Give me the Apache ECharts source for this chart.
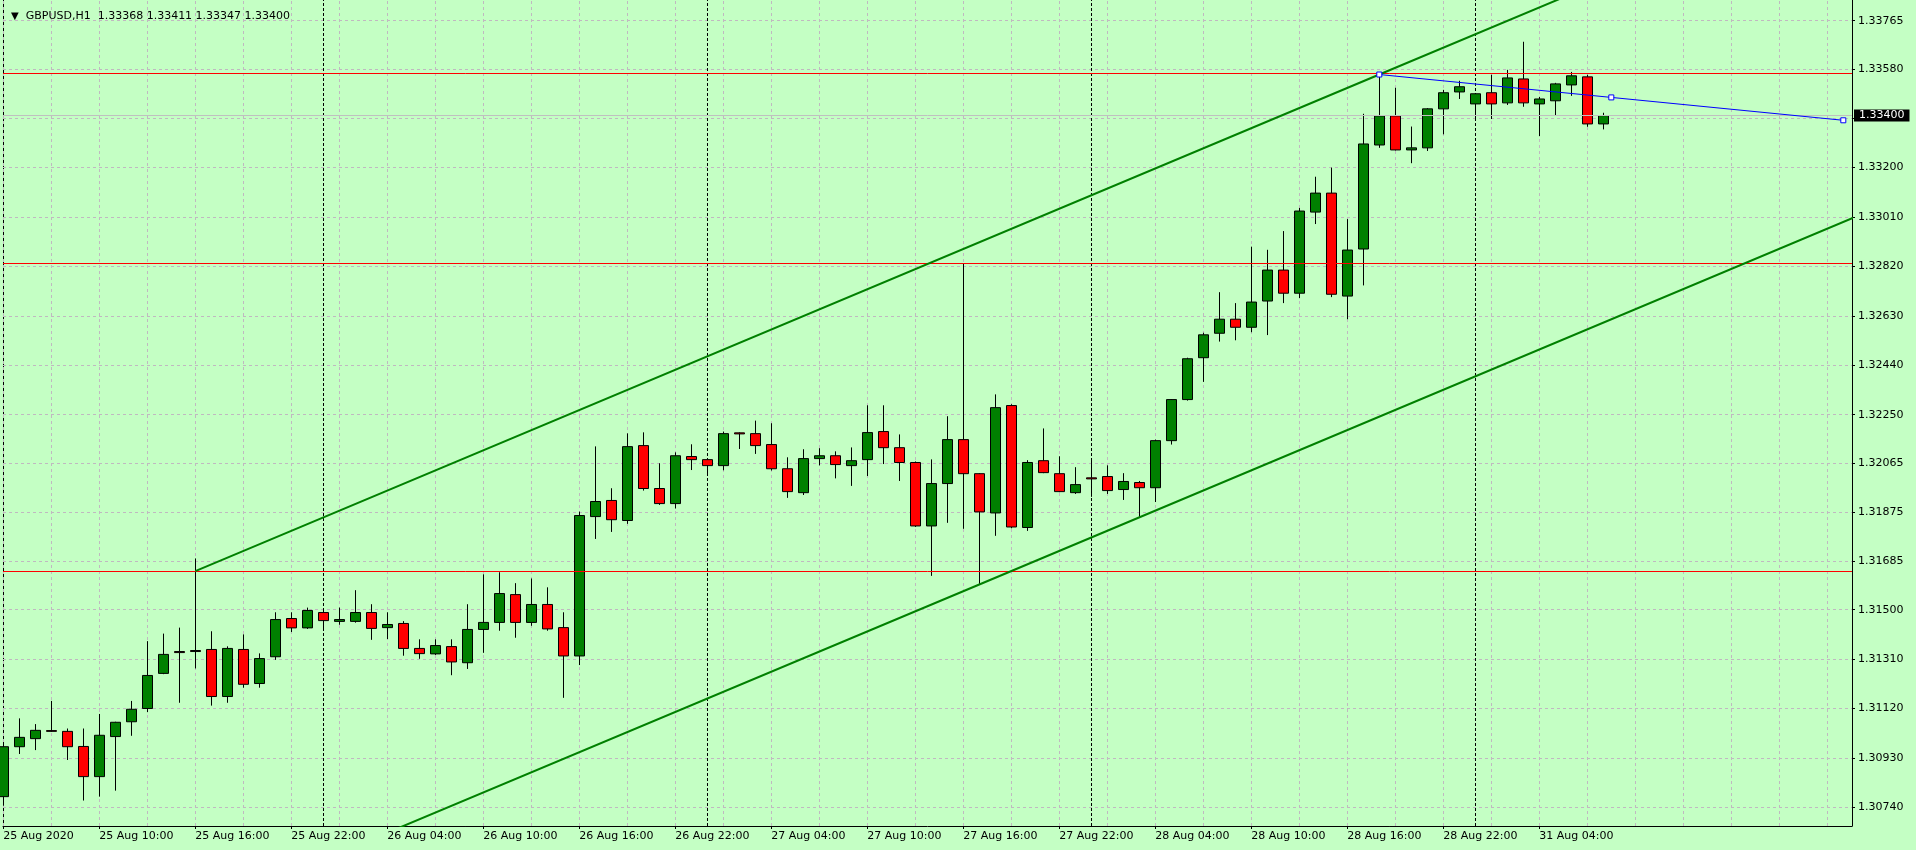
<!DOCTYPE html>
<html><head><meta charset="utf-8">
<script src="https://cdn.jsdelivr.net/npm/echarts@6/dist/echarts.min.js"></script>
<style>html,body{margin:0;padding:0;background:#c4ffc4;}#c{width:1916px;height:850px;}</style>
</head><body><div id="c"></div>
<script>
const symbolName = 'GBPUSD';
const timeframe = 'H1';
const opens = [1.30781,1.30973,1.31004,1.31035,1.31032,1.30974,1.30858,1.31012,1.31069,1.31120,
1.31255,1.31339,1.31343,1.31347,1.31166,1.31347,1.31216,1.31319,1.31466,1.31430,
1.31489,1.31455,1.31455,1.31489,1.31431,1.31447,1.31351,1.31330,1.31358,1.31296,
1.31424,1.31451,1.31558,1.31451,1.31520,1.31431,1.31322,1.31858,1.31920,1.31843,
1.32131,1.31966,1.31908,1.32089,1.32077,1.32054,1.32180,1.32177,1.32135,1.32042,
1.31950,1.32081,1.32092,1.32054,1.32077,1.32185,1.32123,1.32066,1.31822,1.31985,
1.32154,1.32023,1.31872,1.32285,1.31816,1.32073,1.32023,1.31950,1.32007,1.32012,
1.31962,1.31989,1.31969,1.32150,1.32308,1.32469,1.32563,1.32617,1.32586,1.32687,
1.32806,1.32717,1.33029,1.33102,1.32706,1.32887,1.33287,1.33399,1.33268,1.33276,
1.33426,1.33491,1.33445,1.33488,1.33449,1.33541,1.33445,1.33457,1.33518,1.33549,
1.33368];
const closes = [1.30973,1.31009,1.31036,1.31032,1.30973,1.30858,1.31017,1.31067,1.31117,1.31247,
1.31328,1.31335,1.31339,1.31166,1.31351,1.31213,1.31312,1.31462,1.31430,1.31497,
1.31458,1.31462,1.31489,1.31428,1.31443,1.31351,1.31331,1.31362,1.31299,1.31424,
1.31451,1.31562,1.31451,1.31520,1.31426,1.31322,1.31862,1.31916,1.31846,1.32127,
1.31966,1.31908,1.32092,1.32077,1.32054,1.32177,1.32176,1.32131,1.32042,1.31954,
1.32081,1.32092,1.32058,1.32073,1.32181,1.32123,1.32066,1.31822,1.31985,1.32154,
1.32023,1.31876,1.32277,1.31818,1.32066,1.32027,1.31954,1.31981,1.32003,1.31958,
1.31993,1.31969,1.32150,1.32308,1.32465,1.32557,1.32617,1.32586,1.32683,1.32806,
1.32717,1.33033,1.33102,1.32713,1.32883,1.33291,1.33399,1.33268,1.33276,1.33426,
1.33488,1.33511,1.33484,1.33445,1.33545,1.33449,1.33464,1.33522,1.33553,1.33368,
1.33400];
const lows = [1.30746,1.30945,1.30960,1.31030,1.30922,1.30766,1.30781,1.30804,1.31015,1.31106,
1.31252,1.31142,1.31274,1.31131,1.31142,1.31200,1.31200,1.31307,1.31414,1.31426,
1.31424,1.31442,1.31450,1.31384,1.31387,1.31323,1.31311,1.31326,1.31248,1.31272,
1.31334,1.31419,1.31392,1.31438,1.31419,1.31161,1.31287,1.31772,1.31799,1.31830,
1.31958,1.31903,1.31889,1.32037,1.32017,1.32036,1.32118,1.32099,1.32035,1.31930,
1.31941,1.32055,1.32005,1.31976,1.32014,1.32060,1.31995,1.31818,1.31630,1.31834,
1.31811,1.31597,1.31784,1.31813,1.31803,1.32025,1.31952,1.31945,1.31934,1.31945,
1.31922,1.31853,1.31914,1.32135,1.32304,1.32376,1.32531,1.32536,1.32567,1.32556,
1.32679,1.32698,1.32983,1.32702,1.32617,1.32747,1.33276,1.33266,1.33217,1.33264,
1.33328,1.33464,1.33387,1.33387,1.33441,1.33434,1.33321,1.33402,1.33476,1.33357,
1.33347];
const highs = [1.30983,1.31082,1.31060,1.31149,1.31043,1.31043,1.31099,1.31069,1.31149,1.31379,
1.31408,1.31431,1.31697,1.31417,1.31359,1.31405,1.31332,1.31490,1.31490,1.31508,
1.31504,1.31508,1.31575,1.31521,1.31490,1.31456,1.31386,1.31386,1.31386,1.31521,
1.31636,1.31644,1.31602,1.31620,1.31586,1.31490,1.31877,1.32128,1.31967,1.32178,
1.32182,1.32063,1.32105,1.32136,1.32080,1.32185,1.32182,1.32227,1.32217,1.32086,
1.32117,1.32121,1.32109,1.32124,1.32286,1.32286,1.32174,1.32070,1.32078,1.32244,
1.32832,1.32025,1.32328,1.32290,1.32075,1.32197,1.32090,1.32048,1.32080,1.32055,
1.32025,1.31995,1.32154,1.32310,1.32469,1.32565,1.32721,1.32679,1.32896,1.32884,
1.32956,1.33045,1.33165,1.33200,1.33002,1.33407,1.33561,1.33507,1.33358,1.33429,
1.33499,1.33534,1.33487,1.33557,1.33576,1.33684,1.33472,1.33526,1.33568,1.33557,
1.33411];

const xTickBars = [0,6,12,18,24,30,36,42,48,54,60,66,72,78,84,90,96];
const xTickLabels = ['25 Aug 2020','25 Aug 10:00','25 Aug 16:00','25 Aug 22:00','26 Aug 04:00','26 Aug 10:00',
'26 Aug 16:00','26 Aug 22:00','27 Aug 04:00','27 Aug 10:00','27 Aug 16:00','27 Aug 22:00','28 Aug 04:00',
'28 Aug 10:00','28 Aug 16:00','28 Aug 22:00','31 Aug 04:00'];
const xGridBars = [0,3,6,9,12,15,18,21,24,27,30,33,36,39,42,45,48,51,54,57,60,63,66,69,72,75,78,81,84,87,90,93,96,99,102,105,108,111,114];
const daySeparatorBars = [20,44,68,92];
const yTickValues = [1.30740,1.30930,1.31120,1.31310,1.31500,1.31685,1.31875,1.32065,1.32250,1.32440,1.32630,1.32820,1.33010,1.33200,1.33390,1.33580,1.33765];
const levelLines = [1.31648,1.32832,1.33561];
const channelUpper = [[12,1.31648],[86,1.33558],[110,1.34177]];
const channelLower = [[20,1.30539],[61,1.31597],[116,1.33017]];
const blueTrend = [[86,1.33558],[100.5,1.33470],[115,1.33382]];

const FONT = 'DejaVu Sans';
const last = opens.length - 1;
const bid = closes[last];
const header = symbolName + ',' + timeframe + '  ' +
  [opens[last], highs[last], lows[last], closes[last]].map(v => v.toFixed(5)).join(' ');

const candleData = opens.map((o, i) => [i, o, closes[i], lows[i], highs[i]]);

const chart = echarts.init(document.getElementById('c'), null, {renderer: 'canvas'});
chart.setOption({
  animation: false,
  backgroundColor: '#c4ffc4',
  title: {
    text: '{t|▼}  ' + header,
    left: 6, top: 6,
    textStyle: {fontFamily: FONT, fontSize: 11, fontWeight: 'normal', color: '#000',
      rich: {t: {fontFamily: FONT, fontSize: 10, color: '#000'}}}
  },
  grid: {left: 3, right: 64, top: 0, bottom: 24, containLabel: false, outerBoundsMode: 'none'},
  xAxis: {
    type: 'value', min: -0.01875, max: 115.54375,
    axisLine: {show: true, onZero: false, lineStyle: {color: '#000', width: 1}},
    axisTick: {show: true, customValues: xTickBars, length: 3, lineStyle: {color: '#000'}},
    axisLabel: {customValues: xTickBars, align: 'left', margin: 5,
      formatter: v => xTickLabels[xTickBars.indexOf(Math.round(v))] || '',
      fontFamily: FONT, fontSize: 11, color: '#000'},
    splitLine: {show: false}
  },
  yAxis: [{
    type: 'value', position: 'right', min: 1.306681, max: 1.338446, scale: true,
    axisLine: {show: true, onZero: false, lineStyle: {color: '#000', width: 1}},
    axisTick: {show: true, customValues: yTickValues, length: 3, lineStyle: {color: '#000'}},
    axisLabel: {customValues: yTickValues, margin: 6, formatter: v => v.toFixed(5),
      fontFamily: FONT, fontSize: 11, color: '#000'},
    splitLine: {show: false}
  }, {
    type: 'value', position: 'left', min: 1.306681, max: 1.338446, scale: true,
    axisLine: {show: true, onZero: false, lineStyle: {color: '#000', width: 1}},
    axisTick: {show: false}, axisLabel: {show: false}, splitLine: {show: false}
  }],
  series: [
    {
      type: 'line', data: [], silent: true, z: 1,
      markLine: {
        silent: true, symbol: 'none', z: 1, animation: false, precision: 10,
        label: {show: false},
        data: [
          ...yTickValues.map(v => ({yAxis: v, lineStyle: {color: '#c0b8c0', type: [3, 3], width: 1}})),
          ...xGridBars.map(v => ({xAxis: v, lineStyle: {color: '#c0b8c0', type: [3, 3], width: 1}})),
          ...daySeparatorBars.map(v => ({xAxis: v, lineStyle: {color: '#000', type: [3, 2], width: 1}}))
        ]
      }
    },
    {
      type: 'candlestick', data: candleData, encode: {x: 0, y: [1, 2, 3, 4]},
      barWidth: 10, z: 3, clip: true,
      itemStyle: {color: '#008000', color0: '#ff0000', borderColor: '#000', borderColor0: '#000',
        borderColorDoji: '#000', borderWidth: 1}
    },
    {
      type: 'line', data: [], silent: true, z: 4,
      markLine: {
        silent: true, symbol: 'none', z: 4, animation: false, precision: 10,
        data: [
          ...levelLines.map(v => ({yAxis: v, lineStyle: {color: '#ff0000', type: 'solid', width: 1}, label: {show: false}})),
          {yAxis: bid, lineStyle: {color: '#c0c0c0', type: 'solid', width: 1},
            label: {show: true, position: 'end', distance: 2, formatter: bid.toFixed(5),
              backgroundColor: '#000', color: '#fff', fontFamily: FONT, fontSize: 11,
              padding: [1, 5, 0, 5], lineHeight: 11}}
        ]
      }
    },
    {type: 'line', data: channelUpper, symbol: 'none', z: 5, clip: true,
      lineStyle: {color: '#008000', width: 2}},
    {type: 'line', data: channelLower, symbol: 'none', z: 5, clip: true,
      lineStyle: {color: '#008000', width: 2}},
    {type: 'line', data: blueTrend, symbol: 'rect', symbolSize: 5, showSymbol: true, z: 6, clip: true,
      itemStyle: {color: '#ffffff', borderColor: '#0000ff', borderWidth: 1},
      lineStyle: {color: '#0000ff', width: 1}}
  ]
});
</script></body></html>
